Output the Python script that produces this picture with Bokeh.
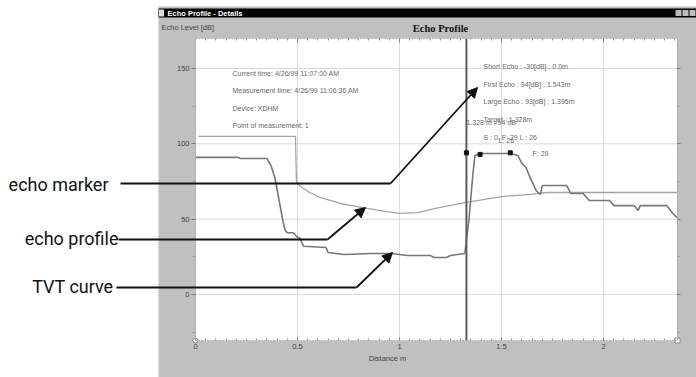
from bokeh.plotting import figure
from bokeh.models import (Range1d, LinearAxis, FixedTicker, Label, Arrow, NormalHead,
                          CustomJSTickFormatter)
from bokeh.embed import file_html
from bokeh.resources import INLINE

# ---------------- data ----------------
# echo profile (distance m, echo level dB)
prof_x = [0.0, 0.21, 0.22, 0.35, 0.37, 0.39, 0.41, 0.43, 0.44, 0.45, 0.48, 0.50, 0.51,
          0.53, 0.64, 0.65, 0.73, 0.86, 0.96, 1.04, 1.15, 1.17, 1.23, 1.25, 1.32,
          1.34, 1.36, 1.37, 1.395, 1.543, 1.58, 1.60, 1.62, 1.64, 1.67, 1.69, 1.70,
          1.82, 1.84, 1.90, 1.93, 2.03, 2.05, 2.15, 2.17, 2.18, 2.31, 2.34, 2.36]
prof_y = [91.0, 91.0, 90.3, 90.3, 85.6, 77.0, 62.4, 47.8, 42.5, 41.0, 41.0, 37.8, 37.8,
          32.0, 31.2, 27.9, 26.5, 27.2, 27.2, 25.9, 25.9, 24.6, 24.6, 25.9, 27.2,
          49.0, 80.3, 92.3, 93.6, 93.6, 92.3, 87.0, 84.3, 77.7, 69.0, 66.4, 72.3,
          72.3, 67.0, 67.0, 62.4, 62.4, 59.0, 59.0, 55.8, 59.0, 59.0, 53.8, 51.0]
# TVT curve
tvt_x = [0.015, 0.49, 0.495, 0.515, 0.56, 0.61, 0.71, 0.82, 0.93, 1.00, 1.09, 1.17,
         1.32, 1.50, 1.64, 1.72, 2.36]
tvt_y = [105.0, 105.0, 74.3, 71.7, 67.7, 64.4, 60.4, 57.7, 55.1, 53.8, 54.4, 57.0,
         61.0, 65.0, 66.4, 67.7, 67.7]
# echo markers
echo_m = [1.328, 1.395, 1.543]
echo_db = [94, 93, 94]
target_m = 1.328
x_ticks = [0, 0.5, 1, 1.5, 2]
x_minor = [i * 0.05 for i in range(48)]
y_ticks = [0, 50, 100, 150]
y_minor = [-25, 25, 75, 125]
info_left = ["Current time: 4/26/99 11:07:00 AM",
             "Measurement time: 4/26/99 11:06:36 AM",
             "Device: XDHM",
             "Point of measurement: 1"]
info_right = ["Short Echo : -30[dB] ; 0.0m",
              "First Echo : 94[dB] ; 1.543m",
              "Large Echo : 93[dB] ; 1.395m",
              "Target : 1.328m",
              "S : 0, F: 29 L : 26"]
callouts = ["echo marker", "echo profile", "TVT curve"]

# ------------- screenshot-pixel -> data helpers (layout only) -------------
PXM = 204.0
PXD = 1.5067
def X(px):
    return (px - 195) / PXM
def Y(py):
    return (294 - py) / PXD

W, H = 696, 377
XMIN, XMAX = 0.0, X(677)       # plot area of the screenshot
YMIN, YMAX = Y(340), Y(38)

p = figure(width=W, height=H, x_range=Range1d(X(0), X(W)), y_range=Range1d(Y(H), Y(0)),
           output_backend="svg", toolbar_location=None, x_axis_location=None, y_axis_location=None,
           min_border=0, min_border_left=0, min_border_right=0, min_border_top=0, min_border_bottom=0,
           background_fill_color="white", border_fill_color="white", outline_line_color=None)
p.grid.visible = False

GRAY = "#c0c0c0"
# window
p.quad(left=[X(158)], right=[X(700)], top=[Y(6)], bottom=[Y(385)], fill_color=GRAY, line_color=None)
p.quad(left=[X(158)], right=[X(700)], top=[Y(8)], bottom=[Y(17)], fill_color="black", line_color=None)
p.quad(left=[X(158.5)], right=[X(163.5)], top=[Y(9)], bottom=[Y(16)], fill_color="#dddddd", line_color=None)
p.quad(left=[X(b) for b in (675, 682, 689)], right=[X(b + 6) for b in (675, 682, 689)],
       top=[Y(9.5)] * 3, bottom=[Y(15.5)] * 3, fill_color="#bbbbbb", line_color=None)
# plot area
p.quad(left=[XMIN], right=[XMAX], top=[YMAX], bottom=[YMIN], fill_color="white", line_color=None)

# grid lines
gx = [t for t in x_ticks if t > 0]
p.segment(x0=gx, x1=gx, y0=[YMIN] * len(gx), y1=[YMAX] * len(gx), line_color="#dadada", line_width=1)
p.segment(x0=[XMIN] * len(y_ticks), x1=[XMAX] * len(y_ticks), y0=y_ticks, y1=y_ticks,
          line_color="#dadada", line_width=1)

# axes
FONT = "Liberation Sans"
blank = CustomJSTickFormatter(code="return ''")
common = dict(major_label_text_font=FONT, major_label_text_font_size="7.5px",
              major_label_text_color="#444444", major_tick_line_color="#777777",
              minor_tick_line_color="#999999")
bottom = LinearAxis(ticker=FixedTicker(ticks=x_ticks, minor_ticks=x_minor), fixed_location=YMIN,
                    bounds=(XMIN, XMAX), axis_line_color="#9a9a9a", axis_line_dash="1 2",
                    major_tick_in=3, major_tick_out=0, minor_tick_in=2, minor_tick_out=0,
                    major_label_standoff=3, **common)
p.add_layout(bottom, "below")
top = LinearAxis(ticker=FixedTicker(ticks=x_ticks, minor_ticks=x_minor), fixed_location=YMAX,
                 bounds=(XMIN, XMAX), formatter=blank, axis_line_color="#9a9a9a", axis_line_dash="1 2",
                 major_tick_in=4, major_tick_out=0, minor_tick_in=2, minor_tick_out=0,
                 major_label_standoff=0, **common)
p.add_layout(top, "above")
left = LinearAxis(ticker=FixedTicker(ticks=y_ticks, minor_ticks=y_minor), fixed_location=XMIN,
                  bounds=(YMIN, YMAX), axis_line_color="#b0b0b0",
                  major_tick_in=0, major_tick_out=4, minor_tick_in=0, minor_tick_out=3,
                  major_label_standoff=2, **common)
p.add_layout(left, "left")
right = LinearAxis(ticker=FixedTicker(ticks=y_ticks, minor_ticks=y_minor), fixed_location=XMAX,
                   bounds=(YMIN, YMAX), formatter=blank, axis_line_color="#b0b0b0",
                   major_tick_in=0, major_tick_out=3, minor_tick_in=0, minor_tick_out=2,
                   major_label_standoff=0, **common)
p.add_layout(right, "right")

# curves
p.line(tvt_x, tvt_y, line_color="#a4a4a4", line_width=1.3)
p.line(prof_x, prof_y, line_color="#777777", line_width=1.6)
p.segment(x0=[target_m], x1=[target_m], y0=[YMIN], y1=[YMAX], line_color="#5a5a5a", line_width=2)
p.scatter(echo_m, echo_db, marker="square", size=4, color="#111111")
# small corner handles of the original chart
p.scatter([XMIN], [YMIN], marker="circle", size=5, fill_color="white", line_color="#888888")
p.scatter([XMAX], [YMIN], marker="square", size=5, fill_color="white", line_color="#888888")

def lab(px, py, text, size="7px", color="#6a6a6a", font=FONT, align="left", style="normal"):
    p.add_layout(Label(x=X(px), y=Y(py), text=text, text_font=font, text_font_size=size,
                       text_color=color, text_baseline="middle", text_align=align,
                       text_font_style=style))

for i, t in enumerate(info_left):
    lab(232, 73 + i * 17.4, t)
for i, t in enumerate(info_right):
    lab(483, 66 + i * 17.7, t)
lab(466, 122, f"{target_m} m ; {echo_db[0]} dB")
lab(498, 140, "L: 26")
lab(532, 153, "F: 29")

# window texts
lab(167, 12.5, "Echo Profile - Details", size="7.5px", color="white", style="bold")
lab(161, 27, "Echo Level [dB]", size="7.5px", color="#444444")
lab(440, 27.5, "Echo Profile", size="10.5px", color="#111111", font="Liberation Serif",
    align="center", style="bold")
lab(387, 358, "Distance m", size="7.5px", color="#444444", align="center")

# call-outs
CALL = "Roboto"
lab(108, 184, callouts[0], size="18px", color="#111111", font=CALL, align="right")
lab(118, 238, callouts[1], size="18px", color="#111111", font=CALL, align="right")
lab(113, 286, callouts[2], size="18px", color="#111111", font=CALL, align="right")

segs = [((120, 183), (390, 183), (477, 87)),
        ((118, 239), (327, 239), (365, 207)),
        ((116, 287), (356, 287), (392, 252))]
for (a, b, c) in segs:
    p.add_layout(Arrow(x_start=X(a[0]), y_start=Y(a[1]), x_end=X(b[0]), y_end=Y(b[1]), end=None,
                       line_color="#111111", line_width=1.8))
    p.add_layout(Arrow(x_start=X(b[0]), y_start=Y(b[1]), x_end=X(c[0]), y_end=Y(c[1]),
                       end=NormalHead(size=10, fill_color="#111111", line_color="#111111"),
                       line_color="#111111", line_width=1.8))

open("out.html", "w").write(file_html(p, INLINE))
